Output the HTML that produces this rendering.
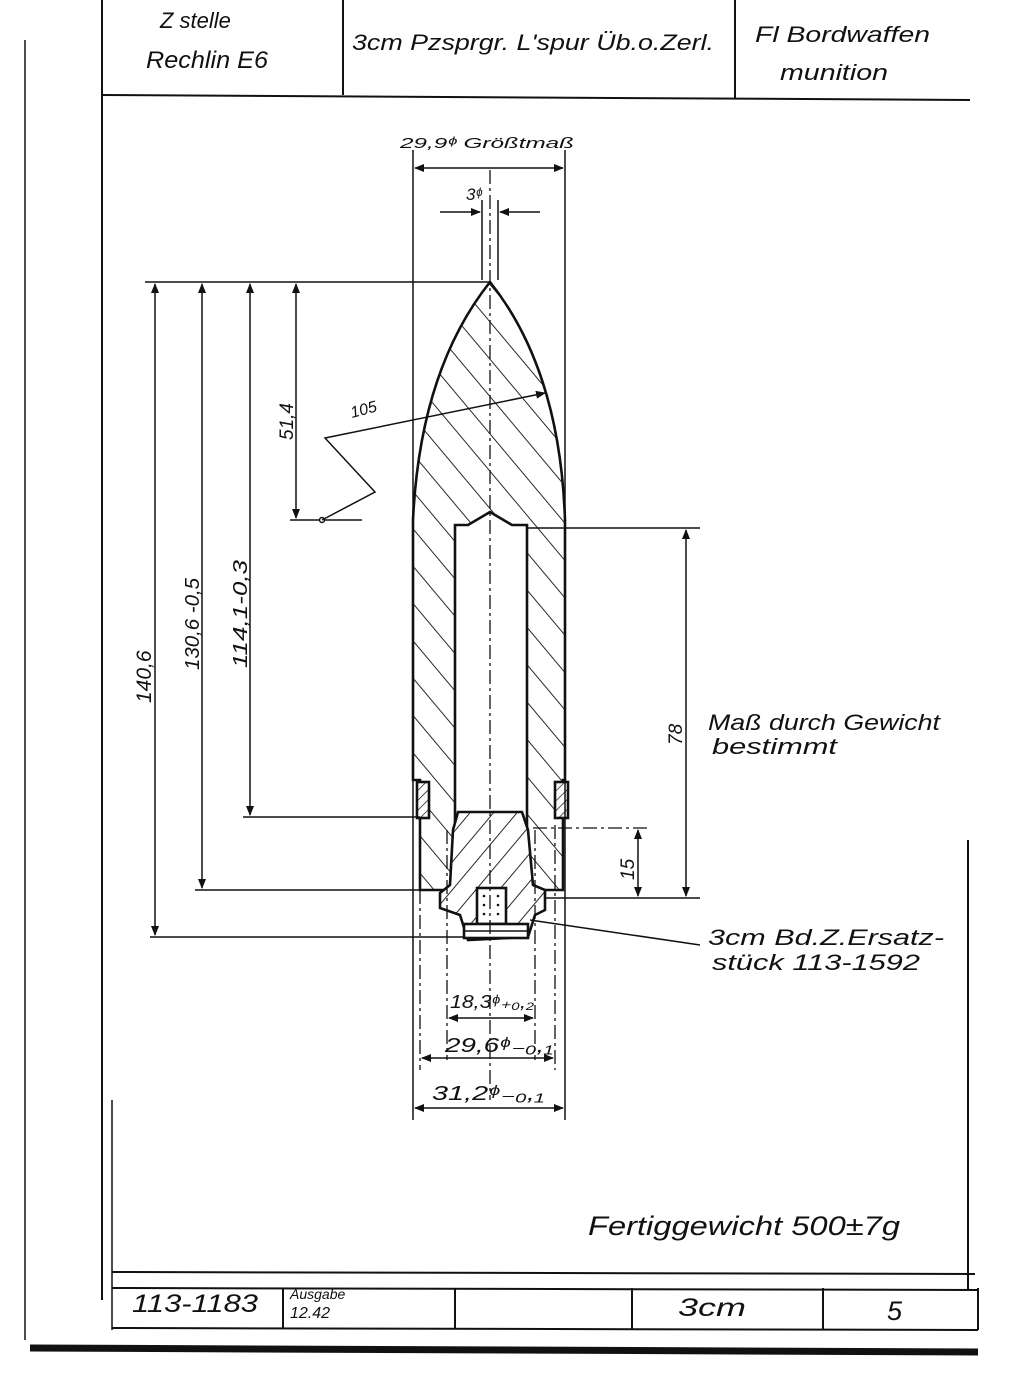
<!DOCTYPE html>
<html><head><meta charset="utf-8"><style>
html,body{margin:0;padding:0;background:#fff;}
svg{display:block;}
text{font-family:"Liberation Sans",sans-serif;font-style:italic;fill:#111;}
</style></head><body>
<svg width="1024" height="1387" viewBox="0 0 1024 1387" xmlns="http://www.w3.org/2000/svg">
<defs>
<pattern id="h" patternUnits="userSpaceOnUse" width="24" height="24" patternTransform="rotate(-40)">
<rect width="24" height="24" fill="#fff"/><line x1="0" y1="0" x2="0" y2="24" stroke="#111" stroke-width="1.8"/></pattern>
<pattern id="h2" patternUnits="userSpaceOnUse" width="18" height="18" patternTransform="rotate(40)">
<rect width="18" height="18" fill="#fff"/><line x1="0" y1="0" x2="0" y2="18" stroke="#111" stroke-width="1.8"/></pattern>
<pattern id="h3" patternUnits="userSpaceOnUse" width="7" height="7" patternTransform="rotate(45)">
<rect width="7" height="7" fill="#fff"/><line x1="0" y1="0" x2="0" y2="7" stroke="#111" stroke-width="1.4"/></pattern>
<marker id="a" markerWidth="10" markerHeight="8" refX="9" refY="4" orient="auto" markerUnits="userSpaceOnUse"><path d="M0,0 L10,4 L0,8z" fill="#111"/></marker>
</defs>
<g stroke="#111" fill="none" stroke-width="2">
<line x1="25" y1="40" x2="25" y2="1340" stroke-width="1.5"/>
<line x1="102" y1="0" x2="102" y2="1300"/>
<line x1="112" y1="1100" x2="112" y2="1330" stroke-width="1.5"/>
<line x1="102" y1="95" x2="970" y2="100"/>
<line x1="343" y1="0" x2="343" y2="95"/>
<line x1="735" y1="0" x2="735" y2="98"/>
<line x1="968" y1="840" x2="968" y2="1290"/>
<line x1="112" y1="1272" x2="975" y2="1274"/>
<line x1="112" y1="1288" x2="978" y2="1290"/>
<line x1="112" y1="1328" x2="978" y2="1330"/>
<line x1="283" y1="1288" x2="283" y2="1328"/>
<line x1="455" y1="1288" x2="455" y2="1328"/>
<line x1="632" y1="1288" x2="632" y2="1330"/>
<line x1="823" y1="1288" x2="823" y2="1330"/>
<line x1="978" y1="1288" x2="978" y2="1330"/>
<line x1="30" y1="1348" x2="978" y2="1352" stroke-width="7"/>
</g>
<g stroke="#111" stroke-width="2.6">
<path d="M490,282 Q420,370 413,520 L413,780 L420,780 L420,890 L455,890 L455,525 L468,525 L490,512 L512,525 L527,525 L527,890 L563,890 L563,780 L565,780 L565,520 Q560,370 490,282 Z" fill="url(#h)"/>
<rect x="417" y="782" width="12" height="36" fill="url(#h3)"/>
<rect x="555" y="782" width="13" height="36" fill="url(#h3)"/>
<path d="M458,812 L522,812 L528,830 L533,885 L545,890 L545,910 L535,915 L528,937 L468,940 L460,915 L440,908 L440,893 L450,885 L453,830 Z" fill="url(#h2)"/>
<rect x="477" y="888" width="29" height="36" fill="#fff"/>
<rect x="464" y="924" width="64" height="14" fill="#fff"/>
<line x1="464" y1="931" x2="528" y2="931" stroke-width="1.5"/>
</g>
<g fill="#111"><circle cx="484" cy="896" r="1.3"/><circle cx="484" cy="905" r="1.3"/><circle cx="484" cy="914" r="1.3"/><circle cx="498" cy="896" r="1.3"/><circle cx="498" cy="905" r="1.3"/><circle cx="498" cy="914" r="1.3"/></g>
<g stroke="#111" stroke-width="1.3" fill="none" stroke-dasharray="14,4,3,4">
<line x1="490" y1="170" x2="490" y2="1100"/>
<line x1="447" y1="830" x2="447" y2="1060"/>
<line x1="535" y1="830" x2="535" y2="1060"/>
<line x1="420" y1="890" x2="420" y2="1070"/>
<line x1="555" y1="825" x2="555" y2="1070"/>
<line x1="533" y1="828" x2="650" y2="828"/>
</g>
<g stroke="#111" stroke-width="1.5" fill="none">
<line x1="413" y1="150" x2="413" y2="1120"/>
<line x1="565" y1="150" x2="565" y2="1120"/>
<line x1="482" y1="200" x2="482" y2="280"/>
<line x1="498" y1="200" x2="498" y2="280"/>
<line x1="490" y1="168" x2="415" y2="168" marker-end="url(#a)"/>
<line x1="490" y1="168" x2="563" y2="168" marker-end="url(#a)"/>
<line x1="440" y1="212" x2="480" y2="212" marker-end="url(#a)"/>
<line x1="540" y1="212" x2="500" y2="212" marker-end="url(#a)"/>
<line x1="145" y1="282" x2="490" y2="282"/>
<line x1="155" y1="300" x2="155" y2="284" marker-end="url(#a)"/>
<line x1="155" y1="300" x2="155" y2="935" marker-end="url(#a)"/>
<line x1="202" y1="300" x2="202" y2="284" marker-end="url(#a)"/>
<line x1="202" y1="300" x2="202" y2="888" marker-end="url(#a)"/>
<line x1="250" y1="300" x2="250" y2="284" marker-end="url(#a)"/>
<line x1="250" y1="300" x2="250" y2="815" marker-end="url(#a)"/>
<line x1="296" y1="300" x2="296" y2="284" marker-end="url(#a)"/>
<line x1="296" y1="300" x2="296" y2="518" marker-end="url(#a)"/>
<line x1="150" y1="937" x2="465" y2="937"/>
<line x1="195" y1="890" x2="440" y2="890"/>
<line x1="243" y1="817" x2="420" y2="817"/>
<line x1="290" y1="520" x2="362" y2="520"/>
<circle cx="322" cy="520" r="2.5" fill="#fff"/>
<polyline points="322,520 375,492 325,438 545,393" marker-end="url(#a)"/>
<line x1="527" y1="528" x2="700" y2="528"/>
<line x1="545" y1="898" x2="700" y2="898"/>
<line x1="686" y1="545" x2="686" y2="530" marker-end="url(#a)"/>
<line x1="686" y1="545" x2="686" y2="896" marker-end="url(#a)"/>
<line x1="638" y1="845" x2="638" y2="830" marker-end="url(#a)"/>
<line x1="638" y1="845" x2="638" y2="896" marker-end="url(#a)"/>
<line x1="530" y1="920" x2="700" y2="945"/>
<line x1="490" y1="1018" x2="449" y2="1018" marker-end="url(#a)"/>
<line x1="490" y1="1018" x2="533" y2="1018" marker-end="url(#a)"/>
<line x1="490" y1="1058" x2="422" y2="1058" marker-end="url(#a)"/>
<line x1="490" y1="1058" x2="553" y2="1058" marker-end="url(#a)"/>
<line x1="490" y1="1108" x2="415" y2="1108" marker-end="url(#a)"/>
<line x1="490" y1="1108" x2="563" y2="1108" marker-end="url(#a)"/>
</g>
<text x="160" y="28" font-size="22">Z stelle</text>
<text x="146" y="68" font-size="24" textLength="122" lengthAdjust="spacingAndGlyphs">Rechlin E6</text>
<text x="352" y="50" font-size="22" textLength="362" lengthAdjust="spacingAndGlyphs">3cm Pzsprgr. L'spur Üb.o.Zerl.</text>
<text x="755" y="42" font-size="22" textLength="175" lengthAdjust="spacingAndGlyphs">Fl Bordwaffen</text>
<text x="780" y="80" font-size="22" textLength="108" lengthAdjust="spacingAndGlyphs">munition</text>
<text x="400" y="148" font-size="15" textLength="174" lengthAdjust="spacingAndGlyphs">29,9ᶲ Größtmaß</text>
<text x="466" y="200" font-size="17">3ᶲ</text>
<text x="352" y="418" font-size="16" transform="rotate(-15 352 418)">105</text>
<text transform="translate(293,440) rotate(-90)" font-size="19">51,4</text>
<text transform="translate(151,703) rotate(-90)" font-size="21">140,6</text>
<text transform="translate(199,670) rotate(-90)" font-size="20" textLength="92" lengthAdjust="spacingAndGlyphs">130,6 -0,5</text>
<text transform="translate(247,668) rotate(-90)" font-size="20" textLength="108" lengthAdjust="spacingAndGlyphs">114,1-0,3</text>
<text transform="translate(682,745) rotate(-90)" font-size="19">78</text>
<text transform="translate(634,880) rotate(-90)" font-size="19">15</text>
<text x="708" y="730" font-size="22" textLength="232" lengthAdjust="spacingAndGlyphs">Maß durch Gewicht</text>
<text x="712" y="754" font-size="22" textLength="125" lengthAdjust="spacingAndGlyphs">bestimmt</text>
<text x="708" y="945" font-size="22" textLength="236" lengthAdjust="spacingAndGlyphs">3cm Bd.Z.Ersatz-</text>
<text x="712" y="970" font-size="22" textLength="208" lengthAdjust="spacingAndGlyphs">stück 113-1592</text>
<text x="450" y="1008" font-size="18" textLength="84" lengthAdjust="spacingAndGlyphs">18,3ᶲ₊₀,₂</text>
<text x="445" y="1052" font-size="20" textLength="108" lengthAdjust="spacingAndGlyphs">29,6ᶲ₋₀,₁</text>
<text x="432" y="1100" font-size="20" textLength="112" lengthAdjust="spacingAndGlyphs">31,2ᶲ₋₀,₁</text>
<text x="588" y="1235" font-size="27" textLength="312" lengthAdjust="spacingAndGlyphs">Fertiggewicht  500±7g</text>
<text x="132" y="1312" font-size="25" textLength="126" lengthAdjust="spacingAndGlyphs">113-1183</text>
<text x="290" y="1299" font-size="14">Ausgabe</text>
<text x="290" y="1318" font-size="16">12.42</text>
<text x="678" y="1316" font-size="25" textLength="68" lengthAdjust="spacingAndGlyphs">3cm</text>
<text x="887" y="1320" font-size="27">5</text>
</svg>
</body></html>
